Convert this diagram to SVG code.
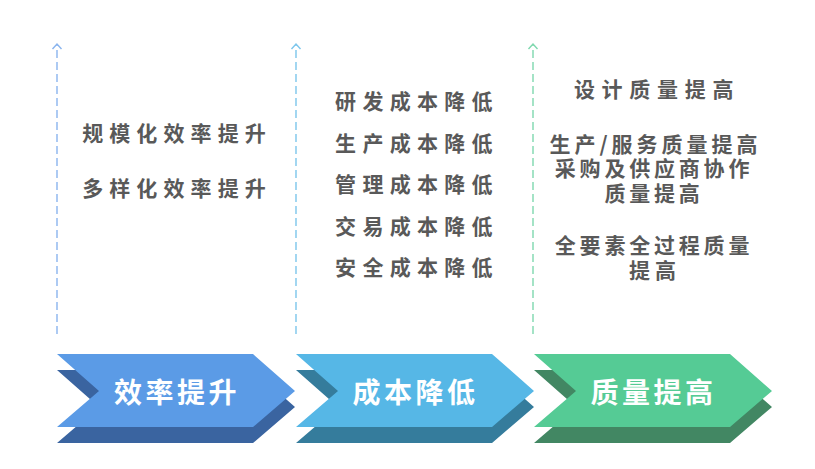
<svg xmlns="http://www.w3.org/2000/svg" width="815" height="469" viewBox="0 0 815 469">
  <style>
    .lbl { font-family: "Noto Sans CJK SC", "Noto Sans", sans-serif; font-weight: bold; font-size: 21px; fill: #595959; text-anchor: middle; dominant-baseline: central; }
    .head { font-family: "Noto Sans CJK SC", "Noto Sans", sans-serif; font-weight: bold; font-size: 28px; fill: #ffffff; text-anchor: middle; dominant-baseline: central; letter-spacing: 3.5px; }
    .dash { fill: none; stroke-width: 1.4; stroke-dasharray: 8 4; }
  </style>
  <defs>
    <path id="chev" d="M0,0 L196,0 L238,37 L196,73 L0,73 L42,37 Z"/>
    <marker id="ah1" markerUnits="userSpaceOnUse" viewBox="-7 -6 9 12" markerWidth="9" markerHeight="12" refX="0" refY="0" orient="auto">
      <path d="M-5,-4.5 L0,0 L-5,4.5" fill="none" stroke="#8ab4ee" stroke-width="1.4"/>
    </marker>
    <marker id="ah2" markerUnits="userSpaceOnUse" viewBox="-7 -6 9 12" markerWidth="9" markerHeight="12" refX="0" refY="0" orient="auto">
      <path d="M-5,-4.5 L0,0 L-5,4.5" fill="none" stroke="#7cc6ec" stroke-width="1.4"/>
    </marker>
    <marker id="ah3" markerUnits="userSpaceOnUse" viewBox="-7 -6 9 12" markerWidth="9" markerHeight="12" refX="0" refY="0" orient="auto">
      <path d="M-5,-4.5 L0,0 L-5,4.5" fill="none" stroke="#7ed8ae" stroke-width="1.4"/>
    </marker>
  </defs>
  <rect width="815" height="469" fill="#ffffff"/>

  <g id="connectors">
    <path class="dash" stroke="#8ab4ee" d="M57,334 L57,44" marker-end="url(#ah1)"/>
    <path class="dash" stroke="#7cc6ec" d="M296,334 L296,44" marker-end="url(#ah2)"/>
    <path class="dash" stroke="#7ed8ae" d="M533,334 L533,44" marker-end="url(#ah3)"/>
  </g>

  <g id="node-efficiency">
    <use href="#chev" x="57" y="370" fill="#3a64a0"/>
    <use href="#chev" x="57" y="354" fill="#5b9be6"/>
    <text class="head" x="177" y="391">效率提升</text>
  </g>
  <g id="node-cost">
    <use href="#chev" x="296" y="370" fill="#357c9c"/>
    <use href="#chev" x="296" y="354" fill="#56b7e6"/>
    <text class="head" x="415.5" y="391">成本降低</text>
  </g>
  <g id="node-quality">
    <use href="#chev" x="534" y="370" fill="#428763"/>
    <use href="#chev" x="534" y="354" fill="#55cb95"/>
    <text class="head" x="653.5" y="391">质量提高</text>
  </g>

  <g id="list-efficiency">
    <text class="lbl" x="177" y="132" style="letter-spacing:6.1px">规模化效率提升</text>
    <text class="lbl" x="177" y="187" style="letter-spacing:6.1px">多样化效率提升</text>
  </g>
  <g id="list-cost">
    <text class="lbl" x="417" y="100" style="letter-spacing:6.3px">研发成本降低</text>
    <text class="lbl" x="417" y="141.5" style="letter-spacing:6.3px">生产成本降低</text>
    <text class="lbl" x="417" y="183" style="letter-spacing:6.3px">管理成本降低</text>
    <text class="lbl" x="417" y="224.5" style="letter-spacing:6.3px">交易成本降低</text>
    <text class="lbl" x="417" y="266" style="letter-spacing:6.3px">安全成本降低</text>
  </g>
  <g id="list-quality">
    <text class="lbl" x="657" y="87.5" style="letter-spacing:6.7px">设计质量提高</text>
    <text class="lbl" style="letter-spacing:3.8px"><tspan x="655.5" y="142.5" style="letter-spacing:4px">生产/服务质量提高</tspan><tspan x="654" y="167">采购及供应商协作</tspan><tspan x="654" y="191.5">质量提高</tspan></text>
    <text class="lbl" style="letter-spacing:3.8px"><tspan x="654" y="244">全要素全过程质量</tspan><tspan x="655" y="268.5" style="letter-spacing:5px">提高</tspan></text>
  </g>
</svg>
